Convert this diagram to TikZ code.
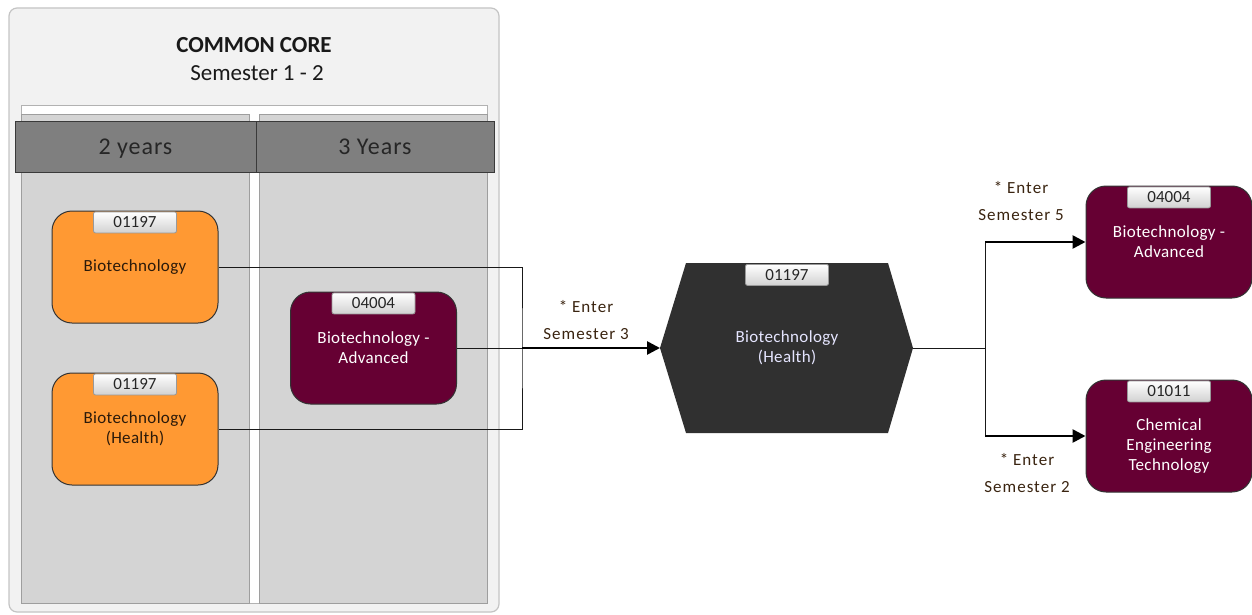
\documentclass[tikz,border=0pt]{standalone}
\usepackage{fontspec}
\setmainfont{Carlito}
\usetikzlibrary{arrows.meta,calc}
\definecolor{outerfill}{HTML}{F2F2F2}
\definecolor{outerdraw}{HTML}{C4C4C4}
\definecolor{colfill}{HTML}{D4D4D4}
\definecolor{coldraw}{HTML}{9E9E9E}
\definecolor{hdrfill}{HTML}{7F7F7F}
\definecolor{hdrdraw}{HTML}{3A3A3A}
\definecolor{orangec}{HTML}{FF9933}
\definecolor{maroonc}{HTML}{660033}
\definecolor{hexc}{HTML}{303030}
\definecolor{txtdark}{HTML}{2B1A0A}
\definecolor{lbltxt}{HTML}{3A2410}
\begin{document}
\begin{tikzpicture}[x=1pt,y=-1pt,
  bodyfont/.style={font=\fontsize{17}{20}\selectfont\addfontfeature{LetterSpace=2}},
  prog/.style={draw=black!80, line width=1pt, rounded corners=20pt, minimum width=166pt, minimum height=112pt, align=center, bodyfont, inner sep=0pt},
  orangebox/.style={prog, fill=orangec, text=txtdark},
  maroonbox/.style={prog, fill=maroonc, text=white},
  tabbox/.style={draw=black!40, line width=0.8pt, rounded corners=2pt, top color=white, bottom color=black!18, minimum width=83pt, minimum height=21pt, inner sep=0pt, font=\fontsize{17}{17}\selectfont, text=black!85, anchor=north},
  hdr/.style={draw=hdrdraw, line width=1pt, fill=hdrfill, minimum height=50pt, inner sep=0pt, text height=18pt, text depth=3pt, font=\fontsize{24}{24}\selectfont\addfontfeature{LetterSpace=4}, text=black!85},
  lbl/.style={align=center, font=\fontsize{17}{27}\selectfont\addfontfeature{LetterSpace=6}, text=lbltxt, inner sep=0pt},
  thin/.style={draw=black!90, line width=1pt},
  thickarrow/.style={draw=black, line width=2.6pt, -{Triangle[length=13pt,width=13pt]}}
]
\useasboundingbox (0,0) rectangle (1252,615);
% outer container
\path[fill=outerfill, draw=outerdraw, line width=1.2pt, rounded corners=8pt] (9,8) rectangle (499,612);
\node[font=\bfseries\fontsize{23}{23}\selectfont, text=black!90] (title) at (254,45) {COMMON CORE};
\node[font=\fontsize{23}{23}\selectfont, text=black!90] (subtitle) at (257,73) {Semester 1 - 2};
% white frame and columns
\path[fill=white, draw=black!30, line width=1pt] (21,106) rectangle (487,603);
\path[fill=colfill, draw=coldraw, line width=1pt] (21,115) rectangle (249,603);
\path[fill=colfill, draw=coldraw, line width=1pt] (259,115) rectangle (487,603);
% header
\node[hdr, minimum width=241pt] (h1) at (135.5,147) {2 years};
\node[hdr, minimum width=238pt] (h2) at (375,147) {3 Years};
% programme boxes
\node[orangebox] (b1) at (135,267) {Biotechnology};
\node[tabbox] (t1) at ([yshift=-1pt]b1.north) {01197};
\node[orangebox] (b2) at (135,429) {Biotechnology\\(Health)};
\node[tabbox] (t2) at ([yshift=-1pt]b2.north) {01197};
\node[maroonbox] (m1) at (373.5,348) {Biotechnology -\\Advanced};
\node[tabbox] (t3) at ([yshift=-1pt]m1.north) {04004};
% hexagon
\path[fill=hexc] (686,263) -- (888,263) -- (913,348) -- (888,433) -- (686,433) -- (660,348) -- cycle;
\coordinate (hexL) at (660,348);
\coordinate (hexR) at (913,348);
\coordinate (hexT) at (787,264);
\node[align=center, bodyfont, text=white!90!blue] (hext) at (787,348) {Biotechnology\\(Health)};
\node[tabbox] (t4) at (hexT) {01197};
% right boxes
\node[maroonbox] (r1) at (1169,242) {Biotechnology -\\Advanced};
\node[tabbox] (t5) at ([yshift=-1pt]r1.north) {04004};
\node[maroonbox] (r2) at (1169,436) {};
\node[align=center, bodyfont, text=white, inner sep=0pt] (r2t) at ([yshift=-10pt]r2.center) {Chemical\\Engineering\\Technology};
\node[tabbox] (t6) at ([yshift=-1pt]r2.north) {01011};
% connectors
\coordinate (jb) at (522,348);
\coordinate (jr) at (985,348);
\draw[thin] (b1.east) -| (jb) |- (b2.east);
\draw[thin] (m1.east) -- (jb);
\draw[thickarrow] (jb) -- (hexL);
\draw[thin] (hexR) -- (jr);
\draw[thin] (jr) -- (jr |- r1.west);
\draw[thin] (jr) -- (jr |- r2.west);
\draw[thickarrow] (jr |- r1.west) -- (r1.west);
\draw[thickarrow] (jr |- r2.west) -- (r2.west);
% labels
\node[lbl] (l3) at (586,320) {* Enter\\Semester 3};
\node[lbl] (l5) at (1021,201) {* Enter\\Semester 5};
\node[lbl] (l2) at (1027,473) {* Enter\\Semester 2};
\end{tikzpicture}
\end{document}
